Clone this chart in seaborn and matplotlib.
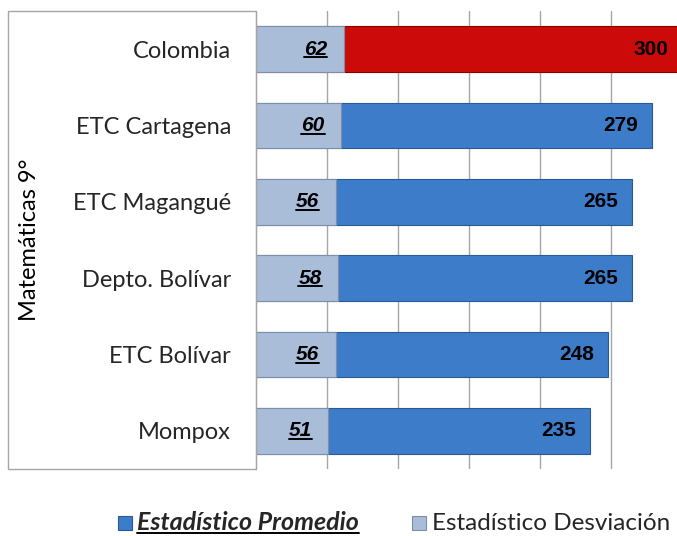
import numpy as np
import pandas as pd
import matplotlib.pyplot as plt
import seaborn as sns
from matplotlib.patches import Rectangle
from matplotlib.lines import Line2D

# Datos
categorias = ['Colombia', 'ETC Cartagena', 'ETC Magangué', 'Depto. Bolívar', 'ETC Bolívar', 'Mompox']
desviacion = [62, 60, 56, 58, 56, 51]
promedio = [300, 279, 265, 265, 248, 235]
colores_promedio = ['#cc0a0a', '#3d7cc9', '#3d7cc9', '#3d7cc9', '#3d7cc9', '#3d7cc9']
color_desviacion = '#a9bcd8'

sns.set_style('white')
plt.rcParams['font.family'] = ['Lato', 'DejaVu Sans']

df = pd.DataFrame({'categoria': categorias, 'desviacion': desviacion, 'promedio': promedio})

fig = plt.figure(figsize=(6.77, 5.36), dpi=100)
W, H = 677, 536
ax = fig.add_axes([256 / W, 1 - 469 / H, (W - 256) / W, (469 - 11) / H])

# barra completa hasta el promedio, luego la desviacion encima
sns.barplot(data=df, y='categoria', x='promedio', hue='categoria', palette=colores_promedio,
            orient='h', width=0.6, saturation=1, legend=False, ax=ax,
            edgecolor='#2a5a96', linewidth=0.8)
sns.barplot(data=df, y='categoria', x='desviacion', color=color_desviacion,
            orient='h', width=0.6, saturation=1, ax=ax,
            edgecolor='#7d8fa8', linewidth=0.8)
ax.patches[0].set_edgecolor('#8a0000')

ax.set_xlim(0, (W - 256) / 1.42)
ax.set_xticks([50, 100, 150, 200, 250])
ax.set_xticklabels([])
ax.grid(axis='x', color='#a6a6a6', linewidth=1)
ax.set_axisbelow(True)
ax.tick_params(axis='both', length=0)
ax.tick_params(axis='y', pad=18, labelsize=17)
ax.set_xlabel('')
ax.set_ylabel('')
for s in ['top', 'right', 'bottom']:
    ax.spines[s].set_visible(False)
ax.spines['left'].set_color('#7f7f7f')

# etiquetas de valores
desv_txt = []
for i, (d, p) in enumerate(zip(desviacion, promedio)):
    t = ax.annotate(str(d), xy=(d, i), xytext=(-12, 0), textcoords='offset points',
                    ha='right', va='center', fontsize=15, fontweight='bold',
                    fontstyle='italic', family='Liberation Sans', color='black')
    desv_txt.append(t)
    ax.annotate(str(p), xy=(p, i), xytext=(-10, 0), textcoords='offset points',
                ha='right', va='center', fontsize=15, fontweight='bold',
                family='Liberation Sans', color='black', annotation_clip=False)

# marco del area de etiquetas
fig.patches.append(Rectangle((8 / W, 1 - 469 / H), 248 / W, 458 / H, transform=fig.transFigure,
                             fill=False, edgecolor='#a6a6a6', linewidth=1))

fig.text(30 / W, 1 - 240 / H, 'Matemáticas 9°', rotation=90, ha='center', va='center',
         fontsize=17, color='black')

# leyenda manual
fig.patches.append(Rectangle((118 / W, 1 - 530 / H), 14 / W, 14 / H, transform=fig.transFigure,
                             facecolor='#3d7cc9', edgecolor='#2a5a96', linewidth=0.8))
leg1 = fig.text(137 / W, 1 - 523 / H, 'Estadístico Promedio', ha='left', va='center',
                fontsize=18, fontweight='bold', fontstyle='italic')
fig.patches.append(Rectangle((412 / W, 1 - 530 / H), 14 / W, 14 / H, transform=fig.transFigure,
                             facecolor=color_desviacion, edgecolor='#7d8fa8', linewidth=0.8))
fig.text(432 / W, 1 - 523 / H, 'Estadístico Desviación', ha='left', va='center', fontsize=17.5)

# subrayados
fig.canvas.draw()
r = fig.canvas.get_renderer()
inv = fig.transFigure.inverted()
for t in desv_txt + [leg1]:
    bb = t.get_window_extent(r)
    (x0, y0), (x1, y1) = inv.transform([[bb.x0, bb.y0], [bb.x1, bb.y1]])
    yl = y0 + 1.5 / H
    fig.lines.append(Line2D([x0, x1], [yl, yl], transform=fig.transFigure,
                            color='black', linewidth=1.4))

fig.savefig('out.png', dpi=100)
